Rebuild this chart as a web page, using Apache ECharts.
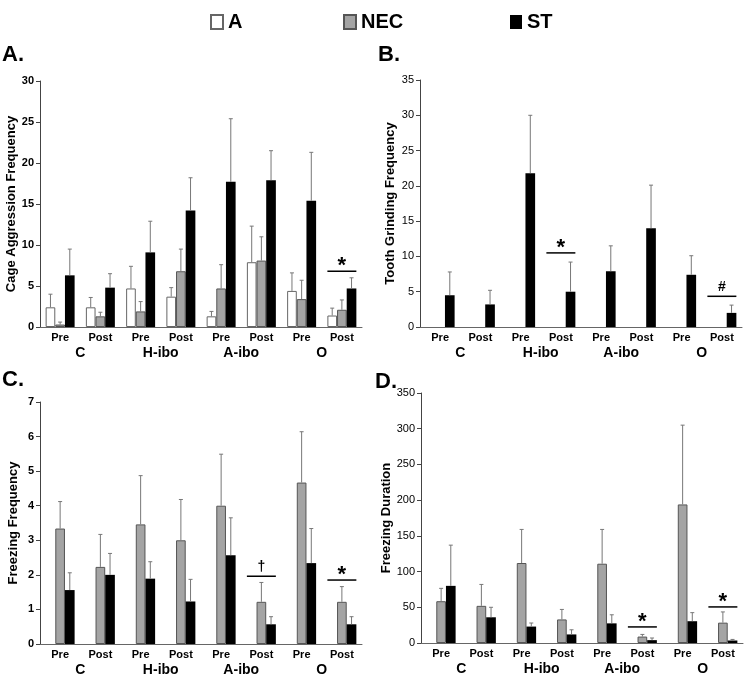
<!DOCTYPE html>
<html>
<head>
<meta charset="utf-8">
<script src="https://cdn.jsdelivr.net/npm/echarts@6/dist/echarts.min.js"></script>
<style>
  html, body { margin: 0; padding: 0; background: #fff; }
  #chart { width: 744px; height: 677px; }
</style>
</head>
<body>
<div id="chart"></div>
<script>
// x categories
const phases = ['Pre', 'Post', 'Pre', 'Post', 'Pre', 'Post', 'Pre', 'Post'];
const groups = ['C', 'H-ibo', 'A-ibo', 'O'];
const legendNames = ['A', 'NEC', 'ST'];
const none = [null, null, null, null, null, null, null, null];

// A. cage aggression frequency (mean, SE)
const aggA = [2.4, 2.4, 4.7, 3.7, 1.3, 7.9, 4.4, 1.4];
const aggASe = [1.6, 1.2, 2.7, 1.1, 0.6, 4.4, 2.2, 0.9];
const aggNEC = [0.3, 1.3, 1.9, 6.8, 4.7, 8.1, 3.4, 2.1];
const aggNECSe = [0.3, 0.5, 1.2, 2.7, 2.9, 2.9, 2.3, 1.2];
const aggST = [6.3, 4.8, 9.1, 14.2, 17.7, 17.9, 15.4, 4.7];
const aggSTSe = [3.2, 1.7, 3.8, 4.0, 7.7, 3.6, 5.9, 1.3];
const aggSig = [[7, 6.8, '*']];

// B. tooth grinding frequency
const toothST = [4.5, 3.2, 21.8, 5.0, 7.9, 14.0, 7.4, 2.0];
const toothSTSe = [3.3, 2.0, 8.2, 4.2, 3.6, 6.1, 2.7, 1.1];
const toothSig = [[3, 10.5, '*'], [7, 4.35, '#']];

// C. freezing frequency
const frzNEC = [3.34, 2.23, 3.46, 3.0, 4.0, 1.22, 4.67, 1.22];
const frzNECSe = [0.78, 0.94, 1.41, 1.18, 1.49, 0.56, 1.47, 0.44];
const frzST = [1.56, 2.0, 1.89, 1.23, 2.57, 0.57, 2.34, 0.57];
const frzSTSe = [0.5, 0.62, 0.49, 0.64, 1.08, 0.22, 1.0, 0.22];
const frzSig = [[5, 1.96, '\u2020'], [7, 1.85, '*']];

// D. freezing duration
const durNEC = [58.5, 52, 112, 33, 111, 9, 194, 28.5];
const durNECSe = [18, 30, 47, 14, 48, 3, 111, 15];
const durST = [80, 36, 23, 12, 27.5, 4, 30.5, 3.5];
const durSTSe = [57, 14, 5, 6.5, 12, 3, 12, 1.5];
const durSig = [[5, 22.5, '*'], [7, 50.5, '*']];

const font = 'Liberation Sans, Arial, sans-serif';
const barFrac = 0.24;
const styles = [
  { color: '#fff', borderColor: '#666', borderWidth: 1 },
  { color: '#a4a4a4', borderColor: '#555', borderWidth: 1 },
  { color: '#000', borderColor: '#000', borderWidth: 0 }
];

const panels = [
  { grid: { left: 40, top: 81, width: 322, height: 246 }, max: 30, interval: 5,
    name: 'Cage Aggression Frequency', nameGap: 20, bold: true,
    vals: [aggA, aggNEC, aggST], se: [aggASe, aggNECSe, aggSTSe], sig: aggSig },
  { grid: { left: 420, top: 80, width: 322, height: 247 }, max: 35, interval: 5,
    name: 'Tooth Grinding Frequency', nameGap: 23, bold: false,
    vals: [none, none, toothST], se: [none, none, toothSTSe], sig: toothSig },
  { grid: { left: 40, top: 402, width: 322, height: 242 }, max: 7, interval: 1,
    name: 'Freezing Frequency', nameGap: 20, bold: true,
    vals: [none, frzNEC, frzST], se: [none, frzNECSe, frzSTSe], sig: frzSig },
  { grid: { left: 421, top: 393, width: 322, height: 250 }, max: 350, interval: 50,
    name: 'Freezing Duration', nameGap: 27, bold: false,
    vals: [none, durNEC, durST], se: [none, durNECSe, durSTSe], sig: durSig }
];

const grids = [], xAxes = [], yAxes = [], series = [];

panels.forEach((p, pi) => {
  grids.push(p.grid);
  xAxes.push({
    type: 'category', gridIndex: pi, data: phases,
    axisLine: { lineStyle: { color: '#666', width: 1 } },
    axisTick: { length: 4, interval: (i) => i % 2 === 0, lineStyle: { color: '#666' } },
    axisLabel: { interval: 0, margin: 5, fontSize: 11, fontWeight: 'bold', color: '#000', fontFamily: font }
  });
  xAxes.push({
    type: 'category', gridIndex: pi, data: groups, position: 'bottom', offset: 14,
    axisLine: { show: false }, axisTick: { show: false },
    axisLabel: { margin: 5, fontSize: 14, fontWeight: 'bold', color: '#000', fontFamily: font }
  });
  yAxes.push({
    type: 'value', gridIndex: pi, min: 0, max: p.max, interval: p.interval,
    name: p.name, nameLocation: 'middle', nameGap: p.nameGap,
    nameTextStyle: { fontSize: 13, fontWeight: 'bold', color: '#000', fontFamily: font },
    axisLine: { show: true, lineStyle: { color: '#444' } },
    axisTick: { show: true, length: 4, lineStyle: { color: '#444' } },
    splitLine: { show: false },
    axisLabel: { margin: 6, fontSize: 11, fontWeight: p.bold ? 'bold' : 'normal', color: '#000', fontFamily: font }
  });

  p.vals.forEach((vals, k) => {
    series.push({
      name: legendNames[k], type: 'bar', xAxisIndex: pi * 2, yAxisIndex: pi,
      data: vals, barWidth: (barFrac * 100) + '%', barGap: '0%',
      itemStyle: styles[k], silent: true
    });
  });

  // error bars (upper side only)
  p.vals.forEach((vals, k) => {
    const errData = [];
    vals.forEach((v, i) => { if (v != null) errData.push([i, v, p.se[k][i]]); });
    series.push({
      type: 'custom', xAxisIndex: pi * 2, yAxisIndex: pi, z: 5, silent: true,
      data: errData,
      renderItem: function (params, api) {
        const cw = api.size([1, 0])[0];
        const c = api.value(0);
        const x = api.coord([c, 0])[0] + (k - 1) * cw * barFrac;
        const y1 = api.coord([c, api.value(1)])[1];
        const y2 = api.coord([c, api.value(1) + api.value(2)])[1];
        const st = { stroke: '#777', lineWidth: 1 };
        return { type: 'group', children: [
          { type: 'line', shape: { x1: x, y1: y1, x2: x, y2: y2 }, style: st },
          { type: 'line', shape: { x1: x - 2, y1: y2, x2: x + 2, y2: y2 }, style: st }
        ] };
      }
    });
  });

  // significance lines
  series.push({
    type: 'custom', xAxisIndex: pi * 2, yAxisIndex: pi, z: 6, silent: true,
    data: p.sig.map(s => [s[0], s[1]]),
    renderItem: function (params, api) {
      const cw = api.size([1, 0])[0];
      const pt = api.coord([api.value(0), api.value(1)]);
      const w = cw * 0.72;
      const mark = p.sig[params.dataIndex][2];
      const big = mark === '*';
      return { type: 'group', children: [
        { type: 'line', shape: { x1: pt[0] - w / 2, y1: pt[1], x2: pt[0] + w / 2, y2: pt[1] },
          style: { stroke: '#000', lineWidth: 1.5 } },
        { type: 'text', style: { text: mark, x: pt[0], y: big ? pt[1] + 6 : pt[1] - 2,
          align: 'center', verticalAlign: 'bottom', fill: '#000',
          font: 'bold ' + (big ? 22 : 14) + 'px ' + font } }
      ] };
    }
  });
});

const legendBase = {
  top: 7, icon: 'rect', itemWidth: 12, itemHeight: 14, itemGap: 5, selectedMode: false,
  textStyle: { fontSize: 20, fontWeight: 'bold', color: '#000', fontFamily: font }
};

const letters = [['A.', 2, 44], ['B.', 378, 44], ['C.', 2, 369], ['D.', 375, 371]];

const option = {
  animation: false,
  backgroundColor: '#fff',
  legend: [
    Object.assign({}, legendBase, { data: ['A'], left: 205 }),
    Object.assign({}, legendBase, { data: ['NEC'], left: 338 }),
    Object.assign({}, legendBase, { data: ['ST'], left: 505 })
  ],
  grid: grids,
  xAxis: xAxes,
  yAxis: yAxes,
  series: series,
  graphic: letters.map(l => ({
    type: 'text', left: l[1], top: l[2],
    style: { text: l[0], font: 'bold 22px ' + font, fill: '#000' }
  }))
};

const chart = echarts.init(document.getElementById('chart'));
chart.setOption(option);
</script>
</body>
</html>
